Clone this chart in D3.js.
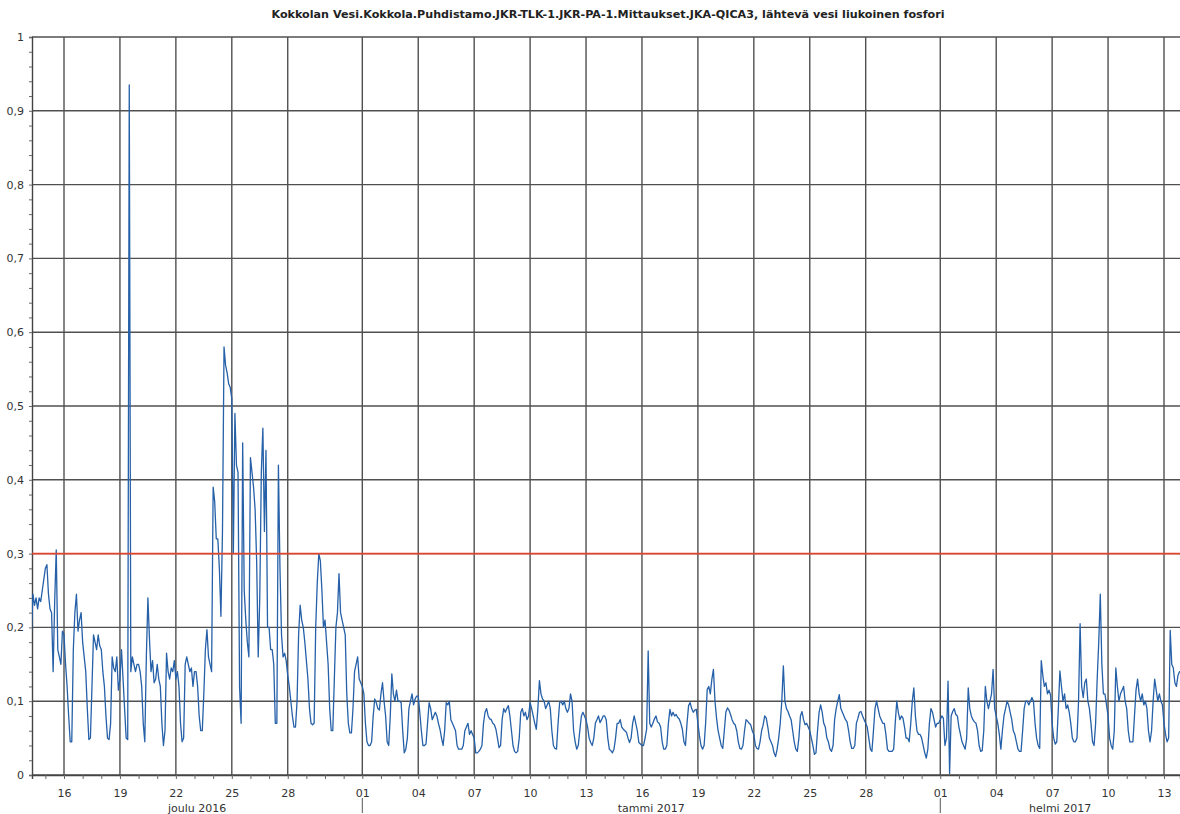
<!DOCTYPE html>
<html>
<head>
<meta charset="utf-8">
<script src="https://cdn.jsdelivr.net/npm/d3@7"></script>
<style>
  body { margin: 0; background: #fff; }
  text { font-family: "DejaVu Sans", Verdana, sans-serif; fill: #333; }
</style>
</head>
<body>
<script>
const title = "Kokkolan Vesi.Kokkola.Puhdistamo.JKR-TLK-1.JKR-PA-1.Mittaukset.JKA-QICA3, lähtevä vesi liukoinen fosfori";

// one row per day, a reading every 2 hours starting at 00:00
const seriesStart = new Date(2016, 11, 14, 0);
const stepHours = 2;
const phosphorus = [
  0.19,0.19,0.19,0.19,0.245,0.23,0.24,0.225,0.24,0.235,0.25,0.265,   // 14.12.
  0.28,0.285,0.245,0.225,0.22,0.14,0.235,0.305,0.17,0.16,0.15,0.195,
  0.19,0.15,0.12,0.08,0.045,0.045,0.17,0.22,0.245,0.195,0.21,0.22,
  0.18,0.16,0.14,0.09,0.048,0.05,0.12,0.19,0.18,0.17,0.19,0.175,
  0.17,0.14,0.12,0.08,0.05,0.048,0.07,0.16,0.145,0.14,0.16,0.115,
  0.13,0.17,0.13,0.09,0.05,0.048,0.935,0.14,0.16,0.15,0.14,0.15,      // 19.12.
  0.15,0.14,0.12,0.07,0.045,0.16,0.24,0.185,0.14,0.155,0.125,0.13,
  0.15,0.13,0.12,0.07,0.04,0.06,0.165,0.14,0.13,0.145,0.14,0.155,
  0.13,0.14,0.12,0.07,0.045,0.05,0.15,0.16,0.15,0.14,0.145,0.12,
  0.14,0.14,0.12,0.08,0.06,0.06,0.11,0.17,0.197,0.16,0.15,0.14,
  0.39,0.37,0.32,0.32,0.28,0.215,0.33,0.58,0.555,0.545,0.53,0.525,   // 24.12.
  0.51,0.30,0.49,0.42,0.41,0.12,0.07,0.45,0.25,0.21,0.18,0.16,
  0.43,0.41,0.39,0.36,0.29,0.16,0.24,0.41,0.47,0.33,0.44,0.2,
  0.2,0.17,0.17,0.15,0.07,0.07,0.42,0.28,0.19,0.16,0.165,0.155,
  0.135,0.12,0.10,0.08,0.065,0.065,0.1,0.19,0.23,0.21,0.2,0.18,
  0.155,0.13,0.09,0.07,0.068,0.07,0.2,0.26,0.30,0.29,0.25,0.2,       // 29.12.
  0.21,0.18,0.15,0.09,0.06,0.06,0.13,0.2,0.22,0.273,0.22,0.21,
  0.2,0.19,0.11,0.07,0.057,0.057,0.09,0.14,0.15,0.16,0.13,0.125,
  0.12,0.11,0.07,0.045,0.04,0.04,0.045,0.08,0.103,0.098,0.09,0.088,  // 01.01.
  0.11,0.125,0.1,0.08,0.045,0.04,0.08,0.137,0.11,0.1,0.115,0.1,
  0.1,0.098,0.06,0.03,0.035,0.05,0.09,0.1,0.11,0.095,0.103,0.107,
  0.107,0.085,0.06,0.04,0.04,0.042,0.07,0.098,0.09,0.075,0.08,0.085,
  0.08,0.07,0.062,0.05,0.04,0.06,0.098,0.095,0.1,0.075,0.07,0.065,
  0.06,0.04,0.035,0.035,0.035,0.04,0.06,0.065,0.07,0.055,0.06,0.055,
  0.05,0.03,0.03,0.032,0.035,0.04,0.07,0.085,0.09,0.08,0.076,0.075,  // 07.01.
  0.07,0.068,0.062,0.05,0.037,0.04,0.075,0.09,0.085,0.09,0.094,0.08,
  0.06,0.04,0.032,0.03,0.032,0.05,0.085,0.09,0.08,0.085,0.075,0.08,
  0.098,0.09,0.08,0.07,0.062,0.09,0.128,0.11,0.103,0.1,0.09,0.095,
  0.1,0.09,0.06,0.04,0.036,0.035,0.07,0.098,0.1,0.095,0.1,0.09,
  0.085,0.09,0.11,0.1,0.06,0.045,0.035,0.04,0.06,0.08,0.085,0.08,
  0.075,0.065,0.05,0.044,0.04,0.05,0.07,0.075,0.08,0.071,0.075,0.08, // 13.01.
  0.08,0.075,0.05,0.035,0.033,0.03,0.035,0.05,0.07,0.07,0.075,0.065,
  0.062,0.06,0.058,0.05,0.044,0.05,0.07,0.08,0.07,0.06,0.044,0.042,
  0.04,0.04,0.05,0.062,0.168,0.07,0.065,0.07,0.076,0.08,0.072,0.07,
  0.065,0.045,0.035,0.035,0.04,0.07,0.089,0.08,0.085,0.08,0.082,0.078,
  0.076,0.07,0.062,0.045,0.04,0.07,0.094,0.098,0.09,0.085,0.088,0.089,
  0.07,0.053,0.04,0.035,0.04,0.071,0.116,0.12,0.11,0.13,0.143,0.1,   // 19.01.
  0.077,0.06,0.05,0.04,0.036,0.06,0.085,0.091,0.088,0.082,0.075,0.07,
  0.068,0.06,0.045,0.036,0.035,0.04,0.06,0.075,0.073,0.07,0.068,0.06,
  0.055,0.04,0.036,0.035,0.045,0.06,0.068,0.08,0.077,0.065,0.05,0.045,
  0.04,0.03,0.025,0.035,0.05,0.07,0.1,0.148,0.1,0.09,0.086,0.08,
  0.075,0.06,0.045,0.035,0.032,0.05,0.08,0.086,0.075,0.068,0.07,0.065,
  0.06,0.05,0.04,0.028,0.03,0.06,0.085,0.095,0.085,0.07,0.065,0.05,  // 25.01.
  0.045,0.035,0.032,0.04,0.075,0.09,0.1,0.109,0.09,0.085,0.08,0.075,
  0.072,0.06,0.045,0.036,0.036,0.04,0.07,0.077,0.085,0.086,0.08,0.075,
  0.07,0.065,0.05,0.035,0.032,0.06,0.09,0.1,0.09,0.08,0.075,0.07,
  0.07,0.055,0.035,0.032,0.032,0.032,0.035,0.07,0.1,0.085,0.075,0.08,
  0.077,0.065,0.05,0.05,0.045,0.07,0.1,0.118,0.08,0.06,0.055,0.055,
  0.05,0.04,0.03,0.023,0.035,0.07,0.09,0.085,0.075,0.065,0.07,0.07,  // 31.01.
  0.075,0.08,0.077,0.04,0.05,0.127,0.002,0.08,0.086,0.09,0.082,0.08,
  0.065,0.055,0.045,0.04,0.035,0.05,0.118,0.09,0.08,0.075,0.072,0.07,
  0.06,0.04,0.032,0.033,0.06,0.12,0.1,0.09,0.1,0.11,0.143,0.09,
  0.08,0.07,0.055,0.035,0.06,0.08,0.09,0.1,0.095,0.085,0.075,0.06,
  0.055,0.045,0.035,0.032,0.032,0.06,0.09,0.1,0.1,0.095,0.1,0.105,
  0.1,0.07,0.05,0.04,0.036,0.155,0.135,0.12,0.125,0.11,0.115,0.108,  // 06.02.
  0.07,0.05,0.042,0.045,0.09,0.141,0.12,0.1,0.11,0.09,0.095,0.085,
  0.07,0.05,0.045,0.045,0.05,0.1,0.205,0.12,0.105,0.125,0.13,0.1,
  0.09,0.07,0.045,0.04,0.07,0.13,0.18,0.245,0.15,0.11,0.11,0.095,
  0.08,0.05,0.04,0.035,0.06,0.145,0.12,0.1,0.11,0.115,0.12,0.1,
  0.09,0.06,0.045,0.045,0.045,0.08,0.115,0.13,0.11,0.1,0.11,0.095,
  0.1,0.09,0.06,0.045,0.06,0.1,0.13,0.115,0.1,0.11,0.1,0.095,
  0.07,0.055,0.045,0.05,0.196,0.15,0.145,0.125,0.12,0.135,0.14,0.14  // 13.02.
];

const limitLevel = [0.3, 0.3];
const yTicks = [0, 0.1, 0.2, 0.3, 0.4, 0.5, 0.6, 0.7, 0.8, 0.9, 1];
const monthNames = ["joulu 2016", "tammi 2017", "helmi 2017"];
const monthStarts = [new Date(2016, 11, 1), new Date(2017, 0, 1), new Date(2017, 1, 1), new Date(2017, 2, 1)];

const width = 1180, height = 814;
const plotLeft = 32, plotRight = 1180, plotTop = 37, plotBottom = 775;

const svg = d3.select("body").append("svg")
  .attr("width", width)
  .attr("height", height);

const x = d3.scaleTime()
  .domain([new Date(2016, 11, 14, 6, 48), new Date(2017, 1, 13, 20, 36)])
  .range([plotLeft, plotRight]);

const y = d3.scaleLinear()
  .domain([0, 1])
  .range([plotBottom, plotTop]);

const data = phosphorus.map((v, i) => ({
  t: d3.timeHour.offset(seriesStart, i * stepHours),
  v: v
}));

// title
svg.append("text")
  .attr("x", 608)
  .attr("y", 18)
  .attr("text-anchor", "middle")
  .attr("font-size", 11)
  .attr("font-weight", "bold")
  .attr("textLength", 673)
  .attr("lengthAdjust", "spacingAndGlyphs")
  .style("fill", "#222")
  .text(title);

// major day ticks: 1, 4, 7 ... 28 of every month
const dayTicks = d3.timeDay.range(x.domain()[0], x.domain()[1])
  .filter(d => d.getDate() <= 28 && (d.getDate() - 1) % 3 === 0);
const minorDays = d3.timeDay.range(x.domain()[0], x.domain()[1]);

const grid = svg.append("g").attr("stroke", "#505050").attr("stroke-width", 1.4);

grid.selectAll("line.v")
  .data(dayTicks)
  .join("line")
  .attr("class", "v")
  .attr("x1", d => x(d)).attr("x2", d => x(d))
  .attr("y1", plotTop).attr("y2", plotBottom);

grid.selectAll("line.h")
  .data(yTicks)
  .join("line")
  .attr("class", "h")
  .attr("x1", plotLeft).attr("x2", plotRight)
  .attr("y1", d => y(d)).attr("y2", d => y(d));

// x axis with daily minor ticks
const xAxis = svg.append("g")
  .attr("transform", `translate(0,${plotBottom})`)
  .call(d3.axisBottom(x).tickValues(minorDays).tickSize(4).tickFormat(""));
xAxis.select(".domain").attr("stroke", "#444").attr("stroke-width", 1.4);
xAxis.selectAll(".tick line").attr("stroke", "#666");

const xLabels = svg.append("g")
  .attr("transform", `translate(0,${plotBottom})`)
  .call(d3.axisBottom(x).tickValues(dayTicks).tickSize(0).tickPadding(14).tickFormat(d3.timeFormat("%d")));
xLabels.select(".domain").remove();
xLabels.selectAll("text")
  .attr("font-size", 11)
  .style("font-family", "'DejaVu Sans', Verdana, sans-serif")
  .style("fill", "#333");

// month labels and separators
const months = monthNames.map((name, i) => {
  const a = Math.max(x(monthStarts[i]), plotLeft);
  const b = Math.min(x(monthStarts[i + 1]), plotRight);
  return { name, start: monthStarts[i], mid: (a + b) / 2 };
});
svg.selectAll("text.month")
  .data(months)
  .join("text")
  .attr("class", "month")
  .attr("x", d => d.mid)
  .attr("y", 811.5)
  .attr("text-anchor", "middle")
  .attr("font-size", 11)
  .text(d => d.name);
svg.selectAll("line.sep")
  .data(months.filter(d => x(d.start) > plotLeft))
  .join("line")
  .attr("class", "sep")
  .attr("x1", d => x(d.start)).attr("x2", d => x(d.start))
  .attr("y1", 798).attr("y2", 813)
  .attr("stroke", "#555").attr("stroke-width", 1);

// y axis
const yAxis = svg.append("g")
  .attr("transform", `translate(${plotLeft},0)`)
  .call(d3.axisLeft(y).ticks(50).tickSize(3).tickFormat(""));
yAxis.select(".domain").attr("stroke", "#444").attr("stroke-width", 1.4);
yAxis.selectAll(".tick line").attr("stroke", "#666");

const yLabels = svg.append("g")
  .attr("transform", `translate(${plotLeft},0)`)
  .call(d3.axisLeft(y).tickValues(yTicks).tickSize(0).tickPadding(8)
    .tickFormat(d => d3.format(".1~f")(d).replace(".", ",")));
yLabels.select(".domain").remove();
yLabels.selectAll("text")
  .attr("font-size", 11)
  .style("font-family", "'DejaVu Sans', Verdana, sans-serif")
  .style("fill", "#333");

// plot clip
svg.append("clipPath").attr("id", "plot")
  .append("rect")
  .attr("x", plotLeft).attr("y", plotTop)
  .attr("width", plotRight - plotLeft).attr("height", plotBottom - plotTop);

const line = d3.line()
  .x(d => x(d.t))
  .y(d => y(d.v));

svg.append("path")
  .datum(data)
  .attr("clip-path", "url(#plot)")
  .attr("fill", "none")
  .attr("stroke", "#2560a8")
  .attr("stroke-width", 1.3)
  .attr("stroke-linejoin", "round")
  .attr("d", line);

// limit line
svg.append("path")
  .datum(limitLevel.map((v, i) => ({ t: x.domain()[i], v })))
  .attr("fill", "none")
  .attr("stroke", "#e2452d")
  .attr("stroke-width", 1.8)
  .attr("d", line);
</script>
</body>
</html>
